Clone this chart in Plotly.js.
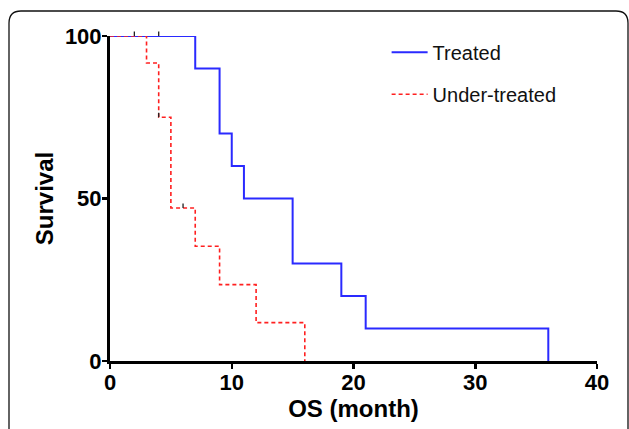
<!DOCTYPE html>
<html>
<head>
<meta charset="utf-8">
<script src="https://cdn.plot.ly/plotly-3.0.1.min.js"></script>
<style>
html,body{margin:0;padding:0;background:#fff;}
#chart{width:629px;height:429px;}
</style>
</head>
<body>
<div id="chart"></div>
<script>
// Kaplan-Meier step data
const treatedTime = [0, 7, 9, 10, 11, 15, 19, 21, 36];
const treatedSurv = [100, 90, 70, 60, 50, 30, 20, 10, 0];
const underTime = [0, 3, 4, 5, 7, 9, 12, 16];
const underSurv = [100, 91.7, 75, 47.1, 35.3, 23.5, 11.8, 0];
// censoring marks
const censorX = [2, 4, 4, 6];
const censorY = [100, 100, 75, 47.1];
const seriesNames = ["Treated", "Under-treated"];
const xTicks = [0, 10, 20, 30, 40];
const yTicks = [0, 50, 100];

const FONT = 'Liberation Sans, Arial, sans-serif';
const traces = [
  {x: treatedTime, y: treatedSurv, name: seriesNames[0], type: 'scatter', mode: 'lines',
   line: {shape: 'hv', color: '#2a2aff', width: 2}, cliponaxis: false, legendgroup: 'a'},
  {x: underTime, y: underSurv, name: seriesNames[1], type: 'scatter', mode: 'lines',
   line: {shape: 'hv', color: '#ff2020', width: 1.6, dash: '4px,3px'}, cliponaxis: false, legendgroup: 'b'}
];

// censor ticks: short vertical strokes rising from each censored point
const annotations = censorX.map((x, i) => ({
  x: x, y: censorY[i], xref: 'x', yref: 'y', text: '', showarrow: true,
  arrowhead: 0, arrowwidth: 1.3, arrowcolor: '#222', ax: 0, ay: -6, standoff: 0, startstandoff: 0
}));

// rounded frame around the figure (paper coordinates)
const L = 110, T = 36, W = 487, H = 325;
const px = v => (v - L) / W, py = v => (T + H - v) / H;
const rx = 12 / W, ry = 12 / H;
const fx0 = px(9), fx1 = px(628), fy1 = py(11), fy0 = py(440);
const shapes = [{
  type: 'path', xref: 'paper', yref: 'paper', layer: 'below',
  path: `M ${fx0},${fy0} L ${fx0},${fy1 - ry} Q ${fx0},${fy1} ${fx0 + rx},${fy1} L ${fx1 - rx},${fy1} Q ${fx1},${fy1} ${fx1},${fy1 - ry} L ${fx1},${fy0}`,
  line: {color: '#111', width: 1.3}
}];

const tickFont = {family: FONT, size: 22, color: '#000', weight: 'bold'};
const layout = {
  width: 629, height: 429,
  margin: {l: L, r: 629 - L - W, t: T, b: 429 - T - H},
  paper_bgcolor: '#fff', plot_bgcolor: '#fff',
  showlegend: true,
  legend: {x: 0.568, y: 1.01, xanchor: 'left', yanchor: 'top', traceorder: 'grouped', tracegroupgap: 13,
    itemwidth: 36,
    font: {family: FONT, size: 20, color: '#111'}, bgcolor: 'rgba(0,0,0,0)'},
  xaxis: {range: [0, 40], tickvals: xTicks, ticktext: xTicks.map(String), showgrid: false, zeroline: false,
    showline: true, linecolor: '#000', linewidth: 3, ticks: 'outside', ticklen: 5, tickwidth: 2.5, tickcolor: '#000',
    tickfont: tickFont, ticklabelstandoff: -5,
    title: {text: 'OS (month)', font: {family: FONT, size: 24, color: '#000', weight: 'bold'}, standoff: 6}},
  yaxis: {range: [0, 100], tickvals: yTicks, ticktext: yTicks.map(String), showgrid: false, zeroline: false,
    showline: true, linecolor: '#000', linewidth: 3, ticks: 'outside', ticklen: 5, tickwidth: 2.5, tickcolor: '#000',
    tickfont: tickFont, ticklabelstandoff: -4,
    title: {text: 'Survival', font: {family: FONT, size: 24, color: '#000', weight: 'bold'}, standoff: 5}},
  shapes: shapes,
  annotations: annotations
};

Plotly.newPlot('chart', traces, layout, {displayModeBar: false, staticPlot: true});
</script>
</body>
</html>
